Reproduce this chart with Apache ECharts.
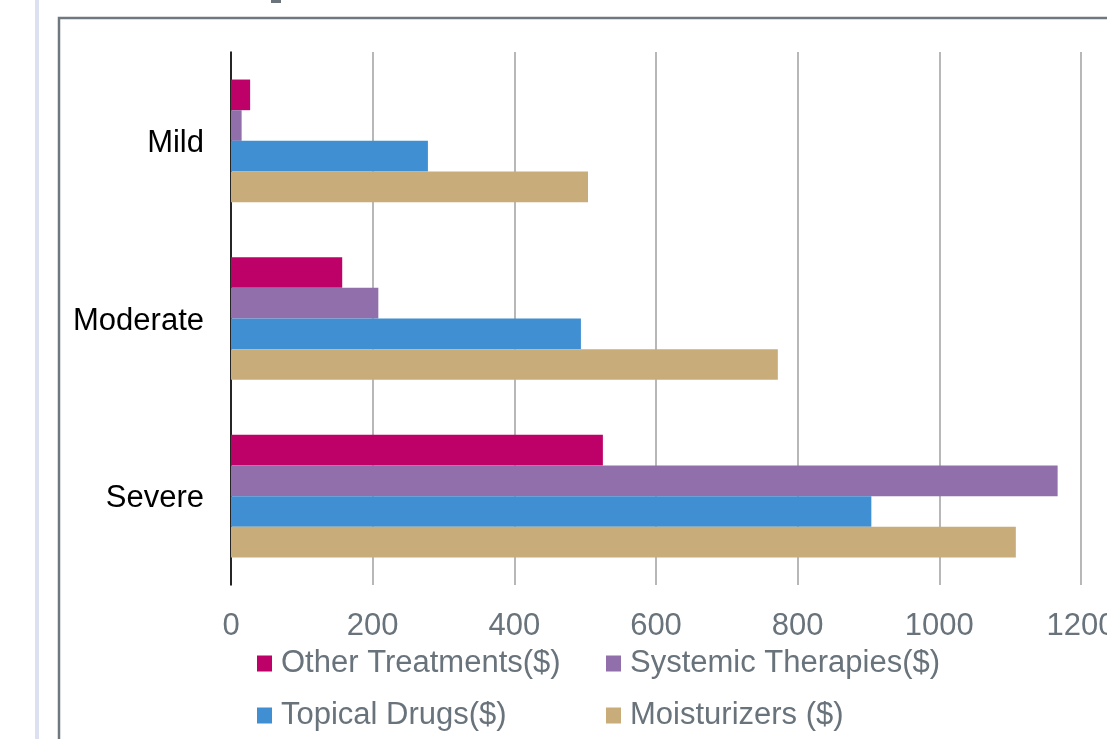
<!DOCTYPE html>
<html>
<head>
<meta charset="utf-8">
<script src="https://cdn.jsdelivr.net/npm/echarts@6/dist/echarts.min.js"></script>
<style>
html,body{margin:0;padding:0;background:#fff;}
#c{width:1107px;height:739px;}
</style>
</head>
<body>
<div id="c"></div>
<script>
const categories = ['Mild', 'Moderate', 'Severe'];
const seriesNames = ['Other Treatments($)', 'Systemic Therapies($)', 'Topical Drugs($)', 'Moisturizers ($)'];
const otherTreatments = [27, 157, 525];
const systemicTherapies = [15, 208, 1167];
const topicalDrugs = [278, 494, 904];
const moisturizers = [504, 772, 1108];
const xTicks = [0, 200, 400, 600, 800, 1000, 1200];

const colors = ['#BE0069', '#906FAA', '#3F8FD2', '#C8AD7A'];
const values = [otherTreatments, systemicTherapies, topicalDrugs, moisturizers];
const FONT = '"Liberation Sans", Arial, sans-serif';
const GRAYTXT = '#69737b';

const chart = echarts.init(document.getElementById('c'), null, {renderer: 'canvas'});
const legendText = {color: GRAYTXT, fontSize: 31, fontFamily: FONT, lineHeight: 31, padding: [0, 0, 0, 4]};
chart.setOption({
  backgroundColor: '#ffffff',
  animation: false,
  graphic: [
    {type: 'rect', shape: {x: 35, y: 0, width: 4, height: 739}, style: {fill: '#dde0f0'}, silent: true},
    {type: 'rect', shape: {x: 59, y: 18, width: 1100, height: 800}, style: {fill: 'none', stroke: '#6f787f', lineWidth: 2.5}, silent: true},
    {type: 'rect', shape: {x: 271, y: 0, width: 10, height: 3}, style: {fill: '#6b737b'}, silent: true}
  ],
  grid: {left: 231, right: 26, top: 52, bottom: 154, containLabel: false, outerBoundsMode: 'none'},
  legend: [
    {orient: 'vertical', left: 257, top: 648, padding: 0, itemGap: 21, itemWidth: 15, itemHeight: 16, icon: 'rect',
     data: [seriesNames[0], seriesNames[2]], textStyle: legendText, selectedMode: false},
    {orient: 'vertical', left: 606, top: 648, padding: 0, itemGap: 21, itemWidth: 15, itemHeight: 16, icon: 'rect',
     data: [seriesNames[1], seriesNames[3]], textStyle: legendText, selectedMode: false}
  ],
  xAxis: {
    type: 'value', min: xTicks[0], max: xTicks[xTicks.length - 1], interval: xTicks[1] - xTicks[0],
    axisLine: {show: false}, axisTick: {show: false},
    axisLabel: {color: GRAYTXT, fontSize: 31, fontFamily: FONT, margin: 26, showMaxLabel: true,
                formatter: v => String(v)},
    splitLine: {show: true, lineStyle: {color: '#a6a6a6', width: 1.6}}
  },
  yAxis: {
    type: 'category', data: categories, inverse: true,
    axisLine: {show: true, lineStyle: {color: '#000000', width: 1.6}},
    axisTick: {show: false},
    axisLabel: {color: '#000000', fontSize: 31, fontFamily: FONT, margin: 27,
                formatter: v => '{a|' + v + '}',
                rich: {a: {color: '#000000', fontSize: 31, fontFamily: FONT, padding: [5, 0, 0, 0]}}}
  },
  series: seriesNames.map((n, i) => ({
    name: n, type: 'bar', data: values[i],
    itemStyle: {color: colors[i]},
    barGap: '0%', barCategoryGap: '31%'
  }))
});
</script>
</body>
</html>
